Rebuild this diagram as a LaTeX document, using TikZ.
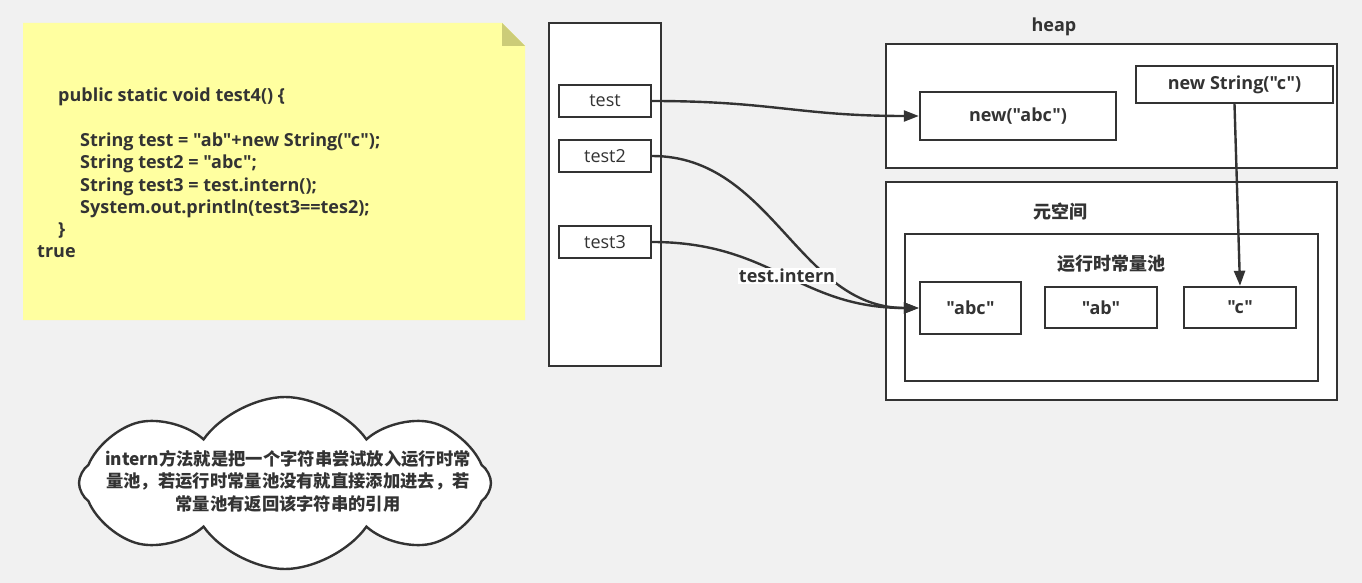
\documentclass[tikz,border=0pt]{standalone}
\usepackage{fontspec}
\setmainfont{Open Sans}[Ligatures=TeXOff]
\newfontfamily\cjk{Noto Sans CJK SC}[Ligatures=TeXOff]
\usetikzlibrary{arrows.meta,shapes.symbols,positioning}
\definecolor{bgcol}{RGB}{241,241,241}
\definecolor{notecol}{RGB}{255,255,160}
\definecolor{foldcol}{RGB}{204,204,120}
\definecolor{linecol}{RGB}{51,51,51}

\begin{document}
\begin{tikzpicture}[x=1pt, y=-1pt,
    every node/.style={text=linecol, font=\fontsize{18}{22.3}\selectfont\bfseries},
    box/.style={draw=linecol, line width=2.4pt, fill=white, inner sep=0pt},
    varbox/.style={box, minimum width=92pt, minimum height=32pt, font=\fontsize{18}{22}\selectfont},
    ref/.style={draw=linecol, line width=2.4pt, -{Triangle[length=15pt, width=11pt]}}]

    %% Background and bounding box
    \fill[bgcol] (0,0) rectangle (1362,583);
    \useasboundingbox (0,0) rectangle (1362,583);

    %% Sticky note with the code
    \fill[notecol] (23,23) -- (502,23) -- (525,46) -- (525,320) -- (23,320) -- cycle;
    \fill[foldcol] (502,23) -- (525,46) -- (502,46) -- cycle;
    \node[anchor=north west, inner sep=0pt, align=left] (code) at (37,88)
      {\hspace*{21pt}public static void test4() \{\\[22.3pt]
       \hspace*{43pt}String test = "ab"+new String("c");\\
       \hspace*{43pt}String test2 = "abc";\\
       \hspace*{43pt}String test3 = test.intern();\\
       \hspace*{43pt}System.out.println(test3==tes2);\\
       \hspace*{21pt}\}\\
       true};

    %% Stack frame
    \node[box, minimum width=112pt, minimum height=343pt] (stack) at (605,194.5) {};
    \node[varbox] (test)  at (605,101) {test};
    \node[varbox] (test2) at (605,156) {test2};
    \node[varbox] (test3) at (605,242) {test3};

    %% Heap
    \node (heaplbl) at (1054,27) {heap};
    \node[box, minimum width=451pt, minimum height=124pt] (heap) at (1111.5,106) {};
    \node[box, minimum width=196pt, minimum height=48pt] (newabc) at (1018,116) {new("abc")};
    \node[box, minimum width=197pt, minimum height=37pt] (newc) at (1234.5,84.5) {new String("c")};

    %% Metaspace with runtime constant pool
    \node[box, minimum width=451pt, minimum height=218pt] (meta) at (1111.5,291) {};
    \node (metalbl) at (1060,212) {\cjk 元空间};
    \node[box, minimum width=413pt, minimum height=147pt] (pool) at (1111.5,307.5) {};
    \node (poollbl) at (1111,264) {\cjk 运行时常量池};
    \node[box, minimum width=101pt, minimum height=52pt] (abc) at (970.5,308) {"abc"};
    \node[box, minimum width=112pt, minimum height=41pt] (ab) at (1101,307.5) {"ab"};
    \node[box, minimum width=112pt, minimum height=41pt] (c) at (1240,307.5) {"c"};

    %% References
    \draw[ref] (test.east) .. controls +(120,0) and +(-120,0) .. (newabc.west);
    \draw[ref] (test2.east) .. controls +(120,0) and +(-120,0) .. (abc.west);
    \draw[ref] (test3.east) .. controls +(120,0) and +(-120,0) .. (abc.west);
    \node[fill=white, inner sep=1pt] (internlbl) at (787,276) {test.intern};
    \draw[ref] (newc.south) -- (c.north);

    %% Cloud note
    \node[cloud, draw=linecol, line width=2.4pt, fill=white, cloud puffs=8,
      cloud puff arc=110, aspect=2.4, minimum width=412pt, minimum height=172pt,
      inner sep=0pt] (cloudnote) at (285,483) {};
    \node[align=center, font=\cjk\fontsize{17.3}{22.5}\selectfont\bfseries] (cloudtxt) at (288,481)
      {intern方法就是把一个字符串尝试放入运行时常\\
       量池，若运行时常量池没有就直接添加进去，若\\
       常量池有返回该字符串的引用};

\end{tikzpicture}
\end{document}
